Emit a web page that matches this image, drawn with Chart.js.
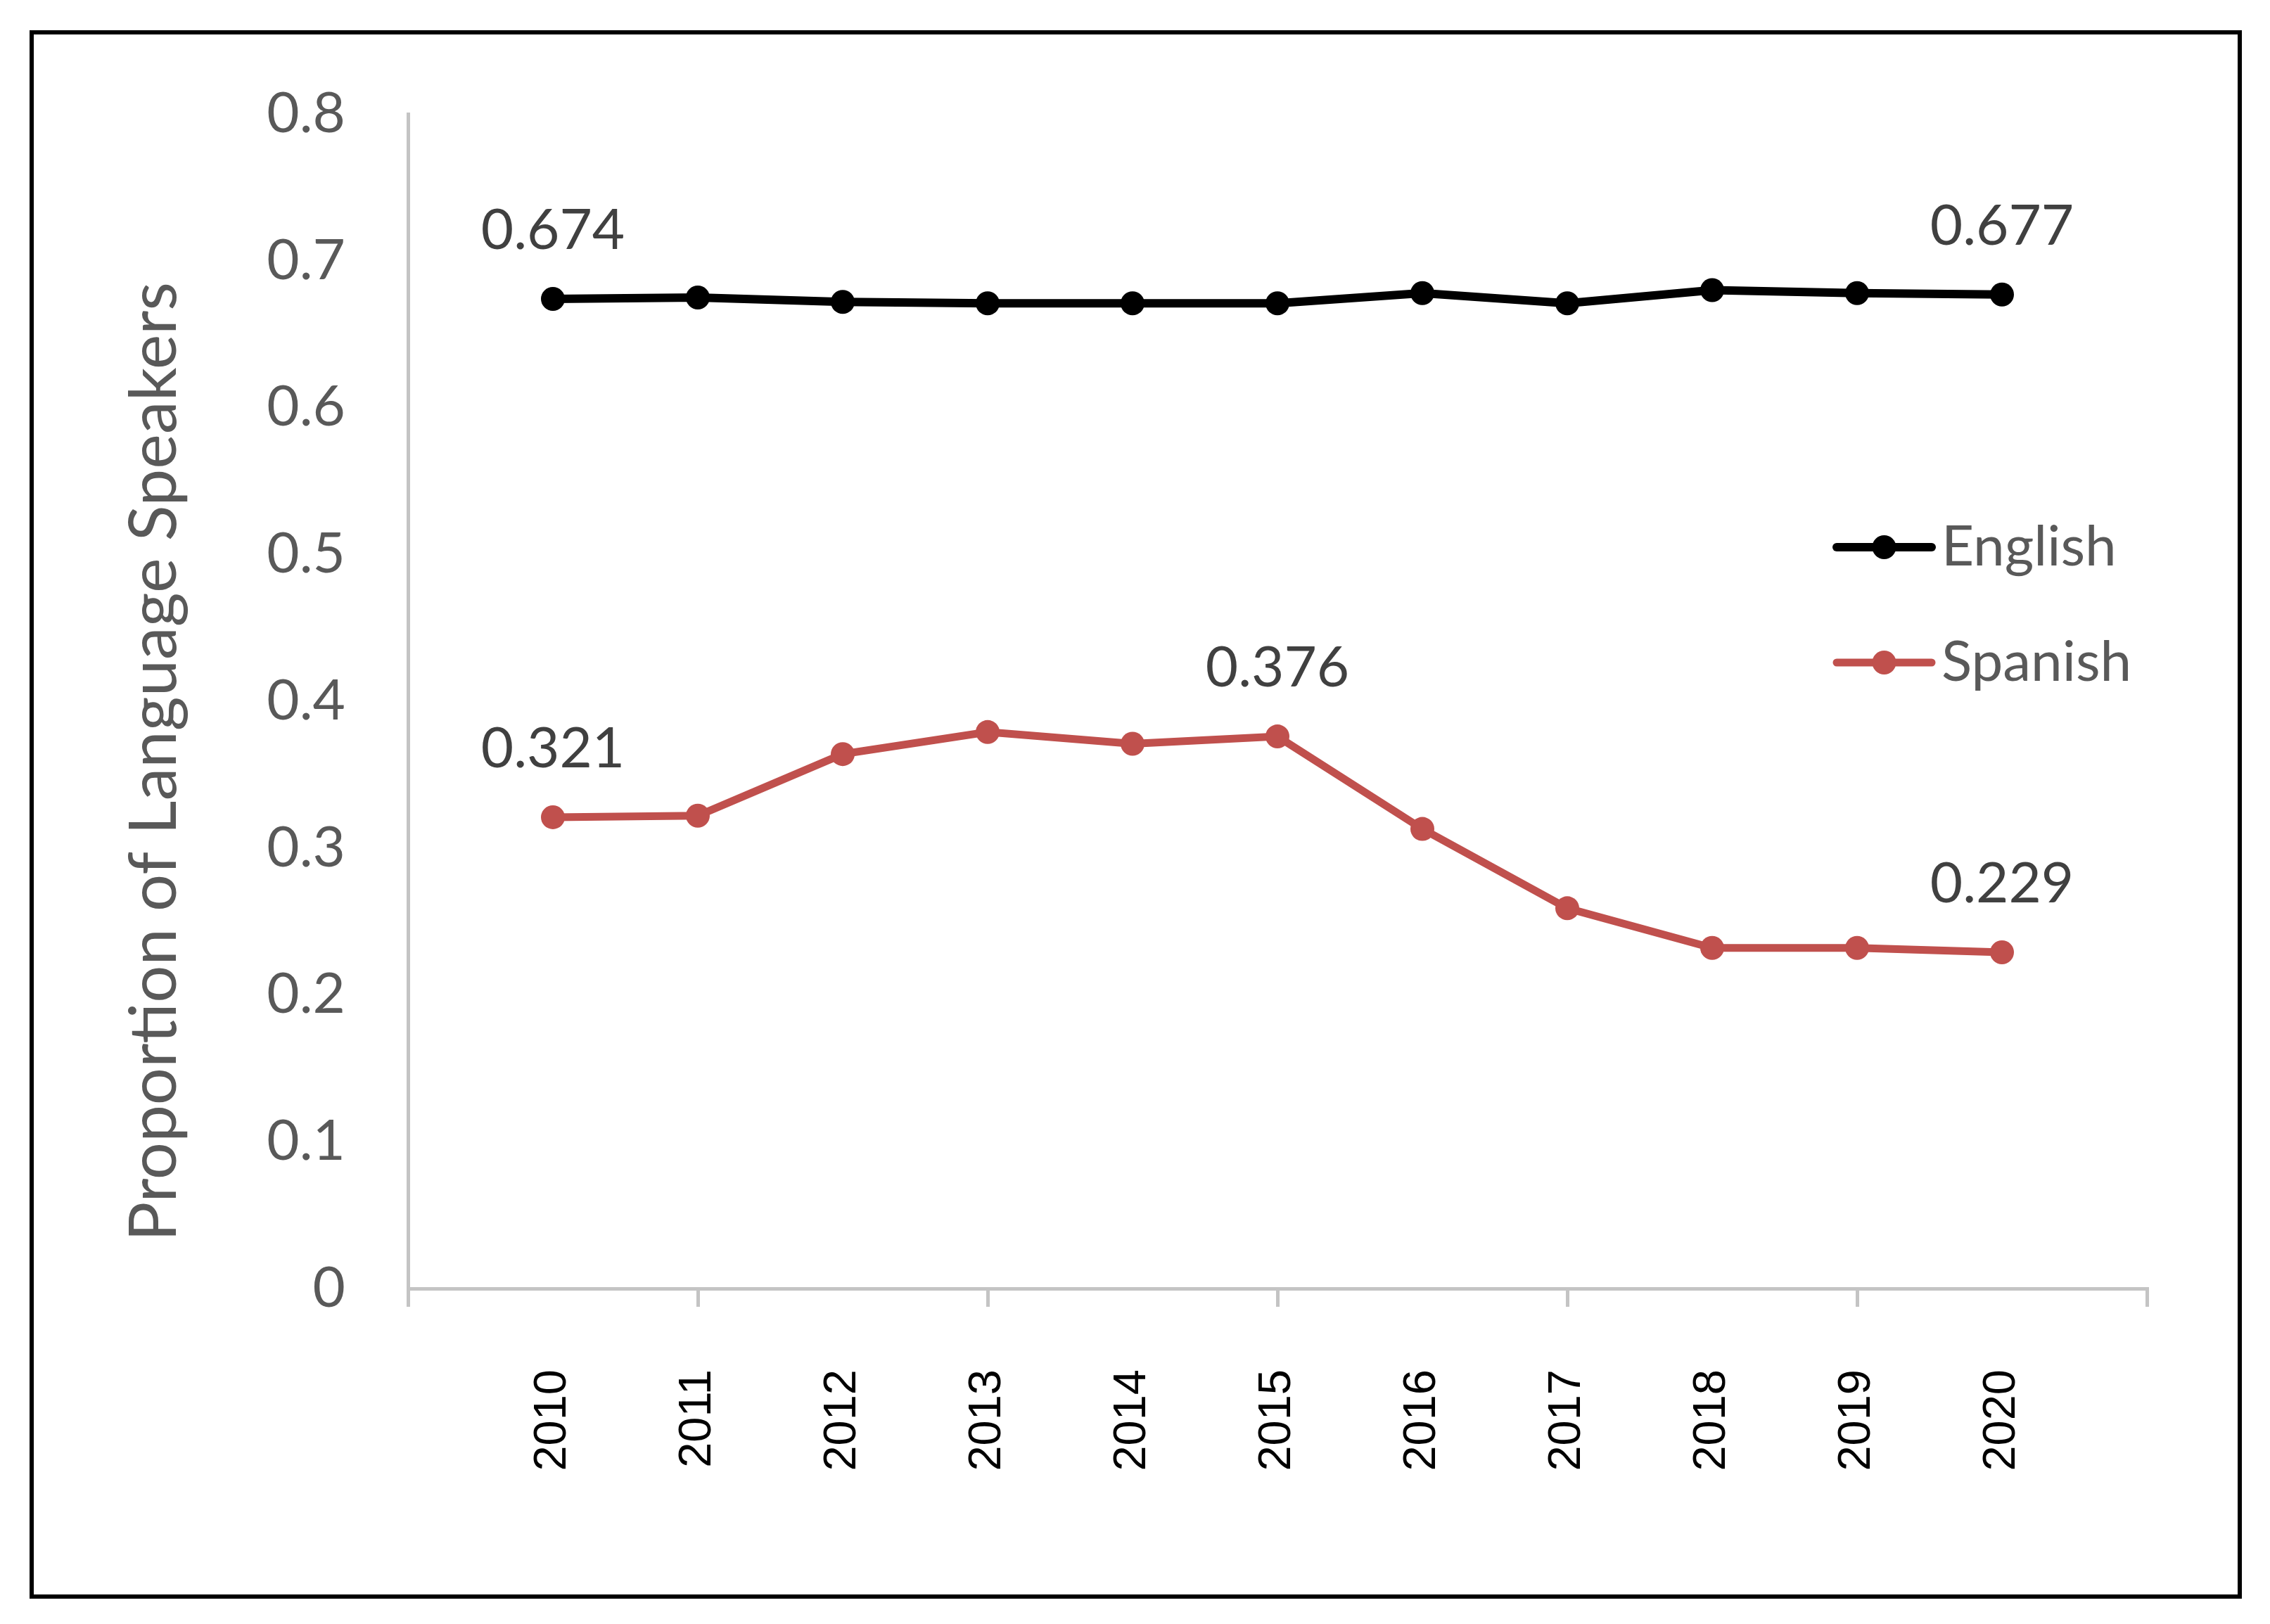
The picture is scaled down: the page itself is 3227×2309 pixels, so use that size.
<!DOCTYPE html>
<html>
<head>
<meta charset="utf-8">
<script src="https://cdn.jsdelivr.net/npm/chart.js@4.4.1/dist/chart.umd.min.js"></script>
<style>
  html, body { margin: 0; padding: 0; background: #fff; }
  canvas { display: block; }
</style>
</head>
<body>
<canvas id="myChart" width="3227" height="2309"></canvas>
<script>
const years = [2010, 2011, 2012, 2013, 2014, 2015, 2016, 2017, 2018, 2019, 2020];
const english = [0.674, 0.675, 0.672, 0.671, 0.671, 0.671, 0.678, 0.671, 0.680, 0.678, 0.677];
const spanish = [0.321, 0.322, 0.364, 0.379, 0.371, 0.376, 0.313, 0.259, 0.232, 0.232, 0.229];
const yTicks = [0, 0.1, 0.2, 0.3, 0.4, 0.5, 0.6, 0.7, 0.8];
// which points carry a value label
const englishLabelAt = [0, 10];
const spanishLabelAt = [0, 5, 10];

const axisGray = "#c4c4c4";
const textGray = "#595959";

const ctx = document.getElementById("myChart").getContext("2d");

const xMin = years[0] - 1;
const xMax = years[years.length - 1] + 1;

const frame = {
  id: "frame",
  beforeDraw(chart) {
    const c = chart.ctx;
    c.save();
    c.fillStyle = "#fff";
    c.fillRect(0, 0, chart.width, chart.height);
    c.strokeStyle = "#000";
    c.lineWidth = 6;
    c.strokeRect(45, 46, 3139, 2224);
    c.restore();
  },
};

const yTitle = {
  id: "yTitle",
  afterDraw(chart) {
    const c = chart.ctx;
    const area = chart.chartArea;
    c.save();
    c.translate(area.left - 360, (area.top + area.bottom) / 2 + 86);
    c.rotate(-Math.PI / 2);
    c.font = "94px Lato";
    c.fillStyle = textGray;
    c.textAlign = "center";
    c.textBaseline = "middle";
    c.fillText("Proportion of Language Speakers", 0, 0);
    c.restore();
  },
};

const valueLabels = {
  id: "valueLabels",
  afterDatasetsDraw(chart) {
    const c = chart.ctx;
    c.save();
    c.font = "80px Lato";
    c.fillStyle = "#404040";
    c.textAlign = "center";
    c.textBaseline = "middle";
    chart.data.datasets.forEach((ds, i) => {
      const meta = chart.getDatasetMeta(i);
      ds.labelAt.forEach((j) => {
        const pt = meta.data[j];
        c.fillText(ds.data[j].y.toFixed(3), pt.x, pt.y - 97);
      });
    });
    c.restore();
  },
};

const sideLegend = {
  id: "sideLegend",
  afterDraw(chart) {
    const c = chart.ctx;
    const area = chart.chartArea;
    const x1 = area.right - 441;
    const x2 = area.right - 306;
    const mx = (x1 + x2) / 2;
    c.save();
    c.font = "80px Lato";
    c.textAlign = "left";
    c.textBaseline = "middle";
    chart.data.datasets.forEach((ds, i) => {
      const y = area.top + 616 + i * 164;
      c.strokeStyle = ds.borderColor;
      c.lineWidth = ds.borderWidth;
      c.lineCap = "round";
      c.beginPath();
      c.moveTo(x1, y);
      c.lineTo(x2, y);
      c.stroke();
      c.fillStyle = ds.pointBackgroundColor;
      c.beginPath();
      c.arc(mx, y, ds.pointRadius, 0, Math.PI * 2);
      c.fill();
      c.fillStyle = textGray;
      c.fillText(ds.label, x2 + 14, y);
    });
    c.restore();
  },
};

const data = {
  datasets: [
    {
      label: "English",
      data: years.map((yr, i) => ({ x: yr, y: english[i] })),
      labelAt: englishLabelAt,
      borderColor: "#000000",
      backgroundColor: "#000000",
      pointBackgroundColor: "#000000",
      pointBorderWidth: 0,
      borderWidth: 12,
      pointRadius: 17,
      tension: 0,
    },
    {
      label: "Spanish",
      data: years.map((yr, i) => ({ x: yr, y: spanish[i] })),
      labelAt: spanishLabelAt,
      borderColor: "#c0504d",
      backgroundColor: "#c0504d",
      pointBackgroundColor: "#c0504d",
      pointBorderWidth: 0,
      borderWidth: 11,
      pointRadius: 17,
      tension: 0,
    },
  ],
};

const config = {
  type: "line",
  data: data,
  plugins: [frame, valueLabels, sideLegend, yTitle],
  options: {
    responsive: false,
    animation: false,
    devicePixelRatio: 1,
    layout: { padding: { left: 0, right: 175, top: 162, bottom: 0 } },
    plugins: {
      legend: { display: false },
      tooltip: { enabled: false },
    },
    scales: {
      x: {
        type: "linear",
        min: xMin,
        max: xMax,
        afterBuildTicks: (s) => {
          const t = [];
          for (let v = xMin; v <= xMax; v++) t.push({ value: v });
          s.ticks = t;
        },
        afterFit: (s) => { s.height = 477; },
        grid: {
          drawOnChartArea: false,
          drawTicks: true,
          tickLength: 26,
          lineWidth: 5,
          color: axisGray,
          tickColor: (c) => ((c.tick && (c.tick.value - xMin) % 2 === 0) ? axisGray : "rgba(0,0,0,0)"),
        },
        border: { display: true, color: axisGray, width: 5 },
        ticks: {
          autoSkip: false,
          minRotation: 90,
          maxRotation: 90,
          padding: 89,
          color: "#000",
          font: { family: "Liberation Sans", size: 65 },
          callback: (v) => (years.includes(v) ? String(v) : ""),
        },
      },
      y: {
        min: 0,
        max: 0.8,
        afterBuildTicks: (s) => { s.ticks = yTicks.map((v) => ({ value: v })); },
        afterFit: (s) => { s.width = 580; },
        grid: { drawOnChartArea: false, drawTicks: false },
        border: { display: true, color: axisGray, width: 5 },
        ticks: {
          padding: 89,
          color: textGray,
          font: { family: "Lato", size: 80 },
          callback: (v) => String(Math.round(v * 10) / 10),
        },
      },
    },
  },
};

const myChart = new Chart(ctx, config);
</script>
</body>
</html>
